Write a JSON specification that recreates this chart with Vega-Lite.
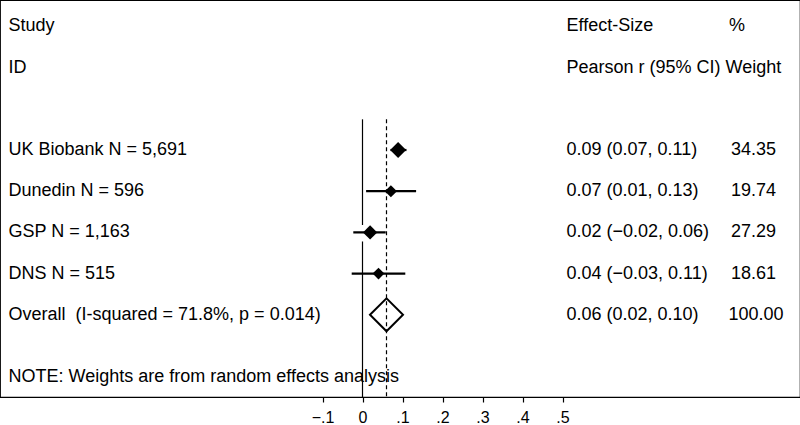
{
  "$schema": "https://vega.github.io/schema/vega-lite/v6.json",
  "width": 800,
  "height": 397,
  "padding": 0,
  "background": "white",
  "config": {
    "view": {"stroke": "black", "strokeWidth": 1.2},
    "font": "Liberation Sans",
    "text": {"font": "Liberation Sans", "fontSize": 18, "color": "black", "baseline": "middle", "align": "left"},
    "axis": {"labelFontSize": 16, "labelFont": "Liberation Sans", "labelColor": "black", "labelPadding": 7, "tickColor": "black", "tickSize": 5, "tickWidth": 1.2, "domainColor": "black", "domainWidth": 1.2, "grid": false, "title": null,
      "labelExpr": "datum.value == 0 ? '0' : replace(format(datum.value, '.1f'), '0.', '.')"}
  },
  "datasets": {
    "studies": [
      {"row": 3, "study": "UK Biobank N = 5,691", "es": 0.089, "lo": 0.07, "hi": 0.11, "weight": 34.35, "esText": "0.09 (0.07, 0.11)", "wText": "34.35"},
      {"row": 4, "study": "Dunedin N = 596", "es": 0.071, "lo": 0.009, "hi": 0.134, "weight": 19.74, "esText": "0.07 (0.01, 0.13)", "wText": "19.74"},
      {"row": 5, "study": "GSP N = 1,163", "es": 0.019, "lo": -0.023, "hi": 0.058, "weight": 27.29, "esText": "0.02 (−0.02, 0.06)", "wText": "27.29"},
      {"row": 6, "study": "DNS N = 515", "es": 0.04, "lo": -0.027, "hi": 0.107, "weight": 18.61, "esText": "0.04 (−0.03, 0.11)", "wText": "18.61"}
    ],
    "overall": [
      {"row": 7, "study": "Overall \u00a0(I-squared = 71.8%, p = 0.014)", "es": 0.06, "lo": 0.02, "hi": 0.10, "weight": 100, "esText": "0.06 (0.02, 0.10)", "wText": "100.00"}
    ],
    "headers": [
      {"row": 0, "col": "study", "label": "Study"},
      {"row": 0, "col": "es", "label": "Effect-Size"},
      {"row": 0, "col": "wt", "label": "%"},
      {"row": 1, "col": "study", "label": "ID"},
      {"row": 1, "col": "es", "label": "Pearson r (95% CI) Weight"},
      {"row": 8.52, "col": "study", "label": "NOTE: Weights are from random effects analysis"}
    ],
    "nullline": [
      {"y1": 2.255, "y2": 4.82},
      {"y1": 5.22, "y2": 8.995}
    ]
  },
  "encoding": {
    "y": {"field": "row", "type": "quantitative", "scale": {"domain": [-0.641, 8.995], "reverse": true}, "axis": null}
  },
  "layer": [
    {
      "data": {"name": "nullline"},
      "mark": {"type": "rule", "color": "black", "strokeWidth": 1.2},
      "encoding": {
        "x": {"datum": 0, "type": "quantitative", "scale": {"domain": [-0.90625, 1.09375]}, "axis": {"values": [-0.1, 0, 0.1, 0.2, 0.3, 0.4, 0.5], "title": null, "labelFontSize": 16, "labelPadding": 7}},
        "y": {"field": "y1", "type": "quantitative", "scale": {"domain": [-0.641, 8.995], "reverse": true}, "axis": null},
        "y2": {"field": "y2"}
      }
    },
    {
      "data": {"name": "overall"},
      "mark": {"type": "rule", "color": "black", "strokeWidth": 1.2, "strokeDash": [4, 3]},
      "encoding": {
        "x": {"field": "es", "type": "quantitative", "scale": {"domain": [-0.90625, 1.09375]}},
        "y": {"datum": 2.255, "type": "quantitative", "scale": {"domain": [-0.641, 8.995], "reverse": true}, "axis": null},
        "y2": {"datum": 8.995}
      }
    },
    {
      "data": {"name": "studies"},
      "mark": {"type": "rule", "color": "black", "strokeWidth": 2.2},
      "encoding": {
        "x": {"field": "lo", "type": "quantitative", "scale": {"domain": [-0.90625, 1.09375]}},
        "x2": {"field": "hi"}
      }
    },
    {
      "data": {"name": "studies"},
      "mark": {"type": "point", "shape": "diamond", "filled": true, "color": "black", "opacity": 1},
      "encoding": {
        "x": {"field": "es", "type": "quantitative", "scale": {"domain": [-0.90625, 1.09375]}},
        "size": {"field": "weight", "type": "quantitative", "scale": {"domain": [0, 34.35], "range": [0, 256], "zero": true}, "legend": null}
      }
    },
    {
      "data": {"name": "overall"},
      "mark": {"type": "point", "shape": "diamond", "filled": false, "stroke": "black", "strokeWidth": 2, "size": 1089, "opacity": 1},
      "encoding": {
        "x": {"field": "es", "type": "quantitative", "scale": {"domain": [-0.90625, 1.09375]}}
      }
    },
    {
      "data": {"name": "studies"},
      "mark": {"type": "text"},
      "encoding": {
        "x": {"datum": -0.885, "type": "quantitative", "scale": {"domain": [-0.90625, 1.09375]}},
        "text": {"field": "study"}
      }
    },
    {
      "data": {"name": "studies"},
      "mark": {"type": "text"},
      "encoding": {
        "x": {"datum": 0.51, "type": "quantitative", "scale": {"domain": [-0.90625, 1.09375]}},
        "text": {"field": "esText"}
      }
    },
    {
      "data": {"name": "studies"},
      "mark": {"type": "text"},
      "encoding": {
        "x": {"datum": 0.921, "type": "quantitative", "scale": {"domain": [-0.90625, 1.09375]}},
        "text": {"field": "wText"}
      }
    },
    {
      "data": {"name": "overall"},
      "mark": {"type": "text"},
      "encoding": {
        "x": {"datum": -0.885, "type": "quantitative", "scale": {"domain": [-0.90625, 1.09375]}},
        "text": {"field": "study"}
      }
    },
    {
      "data": {"name": "overall"},
      "mark": {"type": "text"},
      "encoding": {
        "x": {"datum": 0.51, "type": "quantitative", "scale": {"domain": [-0.90625, 1.09375]}},
        "text": {"field": "esText"}
      }
    },
    {
      "data": {"name": "overall"},
      "mark": {"type": "text"},
      "encoding": {
        "x": {"datum": 0.915, "type": "quantitative", "scale": {"domain": [-0.90625, 1.09375]}},
        "text": {"field": "wText"}
      }
    },
    {
      "data": {"name": "headers"},
      "transform": [{"filter": "datum.col == 'study'"}],
      "mark": {"type": "text"},
      "encoding": {
        "x": {"datum": -0.885, "type": "quantitative", "scale": {"domain": [-0.90625, 1.09375]}},
        "text": {"field": "label"}
      }
    },
    {
      "data": {"name": "headers"},
      "transform": [{"filter": "datum.col == 'es'"}],
      "mark": {"type": "text"},
      "encoding": {
        "x": {"datum": 0.51, "type": "quantitative", "scale": {"domain": [-0.90625, 1.09375]}},
        "text": {"field": "label"}
      }
    },
    {
      "data": {"name": "headers"},
      "transform": [{"filter": "datum.col == 'wt'"}],
      "mark": {"type": "text"},
      "encoding": {
        "x": {"datum": 0.916, "type": "quantitative", "scale": {"domain": [-0.90625, 1.09375]}},
        "text": {"field": "label"}
      }
    }
  ]
}
